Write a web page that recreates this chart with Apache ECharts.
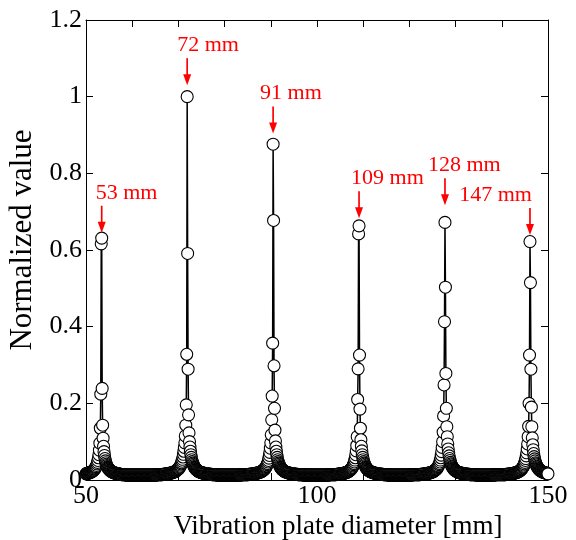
<!DOCTYPE html>
<html>
<head>
<meta charset="utf-8">
<script src="https://cdn.jsdelivr.net/npm/echarts@6/dist/echarts.min.js"></script>
<style>
html,body{margin:0;padding:0;background:#fff;}
#chart{width:576px;height:540px;}
</style>
</head>
<body>
<div id="chart"></div>
<script>
// Sampling grid of the vibration plate diameter [mm]
const diameterStart = 50;
const diameterStep = 0.1;
// Normalized value, one per 0.1 mm from 50.0 to 150.0 mm (1001 points)
const normalizedValue = [
0.016,0.017,0.017,0.017,0.018,0.018,0.018,0.019,0.019,0.020,
0.020,0.021,0.021,0.022,0.023,0.024,0.025,0.026,0.028,0.029,
0.031,0.033,0.035,0.038,0.042,0.046,0.051,0.058,0.066,0.078,
0.096,0.135,0.224,0.616,0.631,0.239,0.143,0.109,0.088,0.074,
0.064,0.056,0.050,0.045,0.041,0.038,0.035,0.033,0.031,0.029,
0.028,0.026,0.025,0.024,0.023,0.022,0.022,0.021,0.020,0.020,
0.019,0.019,0.018,0.018,0.018,0.017,0.017,0.017,0.016,0.016,
0.016,0.016,0.015,0.015,0.015,0.015,0.015,0.014,0.014,0.014,
0.014,0.014,0.014,0.014,0.014,0.014,0.014,0.013,0.013,0.013,
0.013,0.013,0.013,0.013,0.013,0.013,0.013,0.013,0.013,0.013,
0.013,0.013,0.013,0.013,0.013,0.013,0.013,0.013,0.013,0.013,
0.013,0.013,0.013,0.013,0.013,0.013,0.013,0.013,0.013,0.013,
0.013,0.013,0.013,0.013,0.013,0.013,0.013,0.013,0.013,0.013,
0.013,0.013,0.013,0.013,0.013,0.013,0.013,0.013,0.013,0.013,
0.013,0.013,0.013,0.013,0.013,0.013,0.013,0.013,0.013,0.013,
0.013,0.013,0.013,0.014,0.014,0.014,0.014,0.014,0.014,0.014,
0.014,0.014,0.014,0.014,0.014,0.014,0.015,0.015,0.015,0.015,
0.015,0.015,0.015,0.016,0.016,0.016,0.016,0.016,0.017,0.017,
0.017,0.017,0.018,0.018,0.018,0.019,0.019,0.019,0.020,0.020,
0.021,0.021,0.022,0.022,0.023,0.024,0.025,0.026,0.027,0.028,
0.029,0.030,0.032,0.034,0.036,0.039,0.042,0.045,0.049,0.054,
0.060,0.067,0.075,0.085,0.097,0.115,0.143,0.196,0.328,1.000,
0.591,0.289,0.170,0.123,0.100,0.086,0.075,0.066,0.059,0.053,
0.048,0.044,0.041,0.038,0.035,0.033,0.031,0.030,0.028,0.027,
0.026,0.025,0.024,0.023,0.022,0.022,0.021,0.021,0.020,0.020,
0.019,0.019,0.019,0.018,0.018,0.018,0.017,0.017,0.017,0.017,
0.016,0.016,0.016,0.016,0.016,0.015,0.015,0.015,0.015,0.015,
0.015,0.015,0.015,0.014,0.014,0.014,0.014,0.014,0.014,0.014,
0.014,0.014,0.014,0.014,0.013,0.013,0.013,0.013,0.013,0.013,
0.013,0.013,0.013,0.013,0.013,0.013,0.013,0.013,0.013,0.013,
0.013,0.013,0.013,0.013,0.013,0.013,0.013,0.013,0.013,0.013,
0.013,0.013,0.013,0.013,0.013,0.013,0.013,0.013,0.013,0.013,
0.013,0.013,0.013,0.013,0.013,0.013,0.013,0.013,0.013,0.013,
0.013,0.013,0.013,0.013,0.013,0.013,0.014,0.014,0.014,0.014,
0.014,0.014,0.014,0.014,0.014,0.014,0.014,0.014,0.014,0.014,
0.014,0.014,0.015,0.015,0.015,0.015,0.015,0.015,0.015,0.015,
0.016,0.016,0.016,0.016,0.016,0.017,0.017,0.017,0.017,0.018,
0.018,0.018,0.019,0.019,0.019,0.020,0.020,0.021,0.021,0.022,
0.022,0.023,0.024,0.025,0.026,0.027,0.028,0.029,0.031,0.033,
0.035,0.037,0.040,0.043,0.047,0.051,0.057,0.064,0.072,0.083,
0.097,0.118,0.157,0.219,0.357,0.876,0.677,0.298,0.187,0.130,
0.102,0.086,0.075,0.066,0.059,0.053,0.048,0.044,0.041,0.038,
0.035,0.033,0.031,0.030,0.028,0.027,0.026,0.025,0.024,0.023,
0.022,0.022,0.021,0.021,0.020,0.020,0.019,0.019,0.019,0.018,
0.018,0.018,0.017,0.017,0.017,0.017,0.016,0.016,0.016,0.016,
0.016,0.015,0.015,0.015,0.015,0.015,0.015,0.015,0.015,0.014,
0.014,0.014,0.014,0.014,0.014,0.014,0.014,0.014,0.014,0.014,
0.014,0.013,0.013,0.013,0.013,0.013,0.013,0.013,0.013,0.013,
0.013,0.013,0.013,0.013,0.013,0.013,0.013,0.013,0.013,0.013,
0.013,0.013,0.013,0.013,0.013,0.013,0.013,0.013,0.013,0.013,
0.013,0.013,0.013,0.013,0.013,0.013,0.013,0.013,0.013,0.013,
0.013,0.013,0.013,0.013,0.013,0.013,0.013,0.013,0.013,0.013,
0.013,0.013,0.013,0.013,0.013,0.013,0.014,0.014,0.014,0.014,
0.014,0.014,0.014,0.014,0.014,0.014,0.014,0.014,0.014,0.014,
0.014,0.014,0.015,0.015,0.015,0.015,0.015,0.015,0.015,0.016,
0.016,0.016,0.016,0.016,0.017,0.017,0.017,0.017,0.018,0.018,
0.018,0.019,0.019,0.019,0.020,0.020,0.021,0.022,0.022,0.023,
0.024,0.025,0.026,0.027,0.029,0.030,0.032,0.034,0.037,0.040,
0.043,0.047,0.052,0.058,0.066,0.076,0.090,0.113,0.210,0.290,
0.642,0.663,0.326,0.185,0.135,0.105,0.088,0.076,0.066,0.059,
0.053,0.048,0.044,0.041,0.038,0.035,0.033,0.031,0.030,0.028,
0.027,0.026,0.025,0.024,0.023,0.022,0.022,0.021,0.021,0.020,
0.020,0.019,0.019,0.019,0.018,0.018,0.018,0.017,0.017,0.017,
0.017,0.016,0.016,0.016,0.016,0.016,0.015,0.015,0.015,0.015,
0.015,0.015,0.015,0.015,0.014,0.014,0.014,0.014,0.014,0.014,
0.014,0.014,0.014,0.014,0.013,0.013,0.013,0.013,0.013,0.013,
0.013,0.013,0.013,0.013,0.013,0.013,0.013,0.013,0.013,0.013,
0.013,0.013,0.013,0.013,0.013,0.013,0.013,0.013,0.013,0.013,
0.013,0.013,0.013,0.013,0.013,0.013,0.013,0.013,0.013,0.013,
0.013,0.013,0.013,0.013,0.013,0.013,0.013,0.013,0.013,0.013,
0.013,0.013,0.013,0.013,0.013,0.013,0.014,0.014,0.014,0.014,
0.014,0.014,0.014,0.014,0.014,0.014,0.014,0.014,0.014,0.014,
0.014,0.014,0.014,0.014,0.015,0.015,0.015,0.015,0.015,0.015,
0.015,0.015,0.016,0.016,0.016,0.016,0.016,0.017,0.017,0.017,
0.017,0.018,0.018,0.018,0.019,0.019,0.019,0.020,0.020,0.021,
0.021,0.022,0.022,0.023,0.024,0.025,0.026,0.027,0.028,0.029,
0.031,0.033,0.035,0.037,0.040,0.043,0.047,0.052,0.058,0.065,
0.074,0.085,0.100,0.125,0.167,0.248,0.413,0.672,0.503,0.278,
0.187,0.139,0.113,0.094,0.081,0.071,0.063,0.056,0.051,0.046,
0.042,0.039,0.036,0.034,0.032,0.030,0.029,0.027,0.026,0.025,
0.024,0.023,0.023,0.022,0.021,0.021,0.020,0.020,0.019,0.019,
0.019,0.018,0.018,0.018,0.017,0.017,0.017,0.017,0.016,0.016,
0.016,0.016,0.016,0.015,0.015,0.015,0.015,0.015,0.015,0.015,
0.015,0.014,0.014,0.014,0.014,0.014,0.014,0.014,0.014,0.014,
0.014,0.014,0.014,0.014,0.014,0.013,0.013,0.013,0.013,0.013,
0.013,0.013,0.013,0.013,0.013,0.013,0.013,0.013,0.013,0.013,
0.013,0.013,0.013,0.013,0.013,0.013,0.013,0.013,0.013,0.013,
0.013,0.013,0.013,0.013,0.013,0.013,0.013,0.013,0.013,0.013,
0.013,0.013,0.013,0.013,0.013,0.014,0.014,0.014,0.014,0.014,
0.014,0.014,0.014,0.014,0.014,0.014,0.014,0.014,0.014,0.014,
0.014,0.014,0.014,0.014,0.014,0.014,0.014,0.014,0.014,0.015,
0.015,0.015,0.015,0.015,0.015,0.015,0.015,0.016,0.016,0.016,
0.016,0.016,0.017,0.017,0.017,0.017,0.018,0.018,0.018,0.019,
0.019,0.019,0.020,0.020,0.021,0.021,0.022,0.023,0.023,0.024,
0.025,0.026,0.027,0.029,0.030,0.032,0.034,0.036,0.039,0.042,
0.046,0.051,0.056,0.063,0.071,0.081,0.094,0.113,0.140,0.200,
0.326,0.622,0.515,0.289,0.190,0.139,0.110,0.092,0.079,0.069,
0.061,0.055,0.050,0.045,0.042,0.039,0.036,0.034,0.032,0.030,
0.029,0.027,0.026,0.025,0.024,0.023,0.023,0.022,0.021,0.021,
0.020,0.020,0.019,0.019,0.019,0.018,0.018,0.018,0.017,0.017,
0.016
];

// Axis ticks
const xMin = 50, xMax = 150, xInterval = 50;
const yMin = 0, yMax = 1.2, yInterval = 0.2;

// Peak annotations
const peakLabels = ['53 mm', '72 mm', '91 mm', '109 mm', '128 mm', '147 mm'];
const peakDiameters = [53.4, 71.9, 90.5, 109.1, 127.7, 146.1];
const arrowTipValues = [0.645, 1.03, 0.904, 0.683, 0.717, 0.639];

// annotation layout (pixels): text offset from arrow, alignment
const labelDx = [-6, -10, -13, -8, -17, 2];
const labelAlign = ['left', 'left', 'left', 'left', 'left', 'right'];

const FONT = '"Liberation Serif", "Times New Roman", serif';

const seriesData = normalizedValue.map((v, i) => [+(diameterStart + i * diameterStep).toFixed(1), v]);

const chart = echarts.init(document.getElementById('chart'), null, {renderer: 'canvas'});

const tickStyle = {color: '#000', width: 1};
const option = {
  animation: false,
  backgroundColor: '#fff',
  grid: {left: 86, right: 28, top: 20, bottom: 60, outerBoundsMode: 'none'},
  xAxis: [
    {
      type: 'value', min: xMin, max: xMax, interval: xInterval, position: 'bottom',
      axisLine: {show: true, onZero: false, lineStyle: {color: '#000', width: 1}},
      axisTick: {show: true, inside: true, length: 7, lineStyle: tickStyle},
      minorTick: {show: true, splitNumber: 5, length: 7, lineStyle: tickStyle},
      splitLine: {show: false}, minorSplitLine: {show: false},
      axisLabel: {show: true, color: '#000', fontFamily: FONT, fontSize: 26, margin: 3, showMinLabel: true, showMaxLabel: true},
      name: 'Vibration plate diameter [mm]', nameLocation: 'middle', nameGap: 30,
      nameTextStyle: {color: '#000', fontFamily: FONT, fontSize: 27, padding: [0, 0, 0, 42]}
    },
    {
      type: 'value', min: xMin, max: xMax, interval: xInterval, position: 'top',
      axisLine: {show: true, onZero: false, lineStyle: {color: '#000', width: 1}},
      axisTick: {show: true, inside: true, length: 7, lineStyle: tickStyle},
      minorTick: {show: true, splitNumber: 5, length: 7, lineStyle: tickStyle},
      splitLine: {show: false}, axisLabel: {show: false}
    }
  ],
  yAxis: [
    {
      type: 'value', min: yMin, max: yMax, interval: yInterval, position: 'left',
      axisLine: {show: true, onZero: false, lineStyle: {color: '#000', width: 1}},
      axisTick: {show: true, inside: true, length: 7, lineStyle: tickStyle},
      splitLine: {show: false},
      axisLabel: {show: true, color: '#000', fontFamily: FONT, fontSize: 26, margin: 4, showMinLabel: true, showMaxLabel: true},
      name: 'Normalized value', nameLocation: 'middle', nameGap: 46, nameRotate: 90,
      nameTextStyle: {color: '#000', fontFamily: FONT, fontSize: 31, padding: [0, 0, 0, 20]}
    },
    {
      type: 'value', min: yMin, max: yMax, interval: yInterval, position: 'right',
      axisLine: {show: true, onZero: false, lineStyle: {color: '#000', width: 1}},
      axisTick: {show: true, inside: true, length: 7, lineStyle: tickStyle},
      splitLine: {show: false}, axisLabel: {show: false}
    }
  ],
  series: [{
    type: 'line',
    xAxisIndex: 0, yAxisIndex: 0,
    data: seriesData,
    showAllSymbol: true,
    symbol: 'circle',
    symbolSize: 12,
    clip: false,
    lineStyle: {color: '#000', width: 1.5},
    itemStyle: {color: '#fff', borderColor: '#000', borderWidth: 1.1},
    emphasis: {disabled: true},
    silent: true
  }]
};
chart.setOption(option);

// Red arrows + labels placed from the peak diameters / values through the axes
const arrowLen = 27;
const graphics = [];
peakLabels.forEach((txt, i) => {
  const tip = chart.convertToPixel({xAxisIndex: 0, yAxisIndex: 0}, [peakDiameters[i], arrowTipValues[i]]);
  const x = tip[0], yTip = tip[1], yTop = yTip - arrowLen;
  graphics.push({
    type: 'line', silent: true, z: 100,
    shape: {x1: x, y1: yTop, x2: x, y2: yTip - 9},
    style: {stroke: '#ff0000', lineWidth: 1.7}
  });
  graphics.push({
    type: 'polygon', silent: true, z: 100,
    shape: {points: [[x - 4, yTip - 11], [x + 4, yTip - 11], [x, yTip]]},
    style: {fill: '#ff0000'}
  });
  graphics.push({
    type: 'text', silent: true, z: 100,
    x: x + labelDx[i], y: yTop - 13,
    style: {text: txt, fill: '#ff0000', font: '22px ' + FONT, textAlign: labelAlign[i], textVerticalAlign: 'middle'}
  });
});
chart.setOption({graphic: graphics});
</script>
</body>
</html>
